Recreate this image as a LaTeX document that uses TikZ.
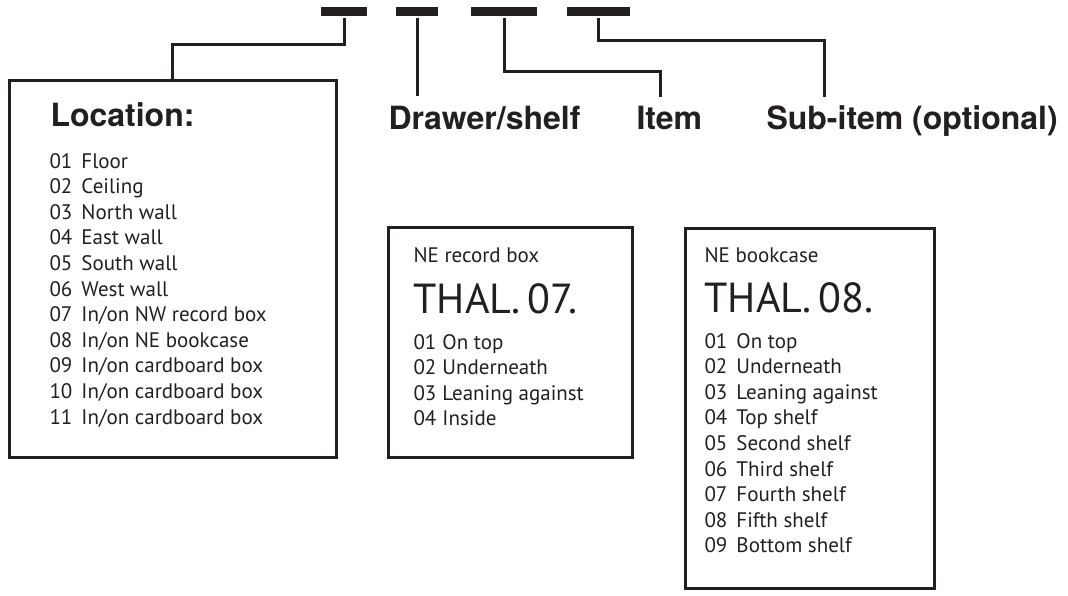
\documentclass[tikz,border=0pt]{standalone}
\usepackage{fontspec}
\setmainfont{PT Sans}
\newfontfamily\headfont{TeX Gyre Heros}
\usetikzlibrary{positioning}
\definecolor{ink}{HTML}{231F20}

\begin{document}
\begin{tikzpicture}[x=1pt, y=-1pt, color=ink, line width=3pt,
    bar/.style={fill=ink, inner sep=0pt, minimum height=9pt},
    panel/.style={draw, line width=3pt, inner sep=0pt},
    heading/.style={font=\headfont\bfseries\fontsize{32}{38}\selectfont,
                    inner sep=0pt, anchor=base west},
    caption/.style={font=\fontsize{21}{25.6}\selectfont,
                    inner sep=0pt, anchor=base west},
    code/.style={font=\fontsize{42}{48}\selectfont,
                 inner sep=0pt, anchor=base west}]
  \useasboundingbox (0,0) rectangle (1068,595);

  % the four fields of the code
  \node (bar1) [bar, minimum width=46pt] at (344,11.5) {};
  \node (bar2) [bar, minimum width=42pt] at (417,11.5) {};
  \node (bar3) [bar, minimum width=66pt] at (504,11.5) {};
  \node (bar4) [bar, minimum width=63pt] at (598.5,11.5) {};

  % field names
  \node (drawer)  [heading] at (387,129) {Drawer/shelf};
  \node (item)    [heading] at (635,129) {Item};
  \node (subitem) [heading] at (765,129) {Sub-item (optional)};

  % location box
  \node (locbox) [panel, minimum width=327pt, minimum height=377pt]
        at (172.5,268.5) {};
  \node (loc) [heading] at (49,126) {Location:};
  \node (loclist) [caption] at (48,168)
        {\begin{tabular}[t]{@{}p{32pt}@{}l@{}}
          01 & Floor\\
          02 & Ceiling\\
          03 & North wall\\
          04 & East wall\\
          05 & South wall\\
          06 & West wall\\
          07 & In/on NW record box\\
          08 & In/on NE bookcase\\
          09 & In/on cardboard box\\
          10 & In/on cardboard box\\
          11 & In/on cardboard box
        \end{tabular}};

  % record box
  \node (recbox) [panel, minimum width=244pt, minimum height=230pt]
        at (510,342) {};
  \node (rectitle) [caption] at (412,262) {NE record box};
  \node (reccode)  [code] at (412,313) {THAL.\,07.};
  \node (reclist)  [caption] at (412,349)
        {\begin{tabular}[t]{@{}p{29pt}@{}l@{}}
          01 & On top\\
          02 & Underneath\\
          03 & Leaning against\\
          04 & Inside
        \end{tabular}};

  % bookcase
  \node (bookbox) [panel, minimum width=249pt, minimum height=360pt]
        at (809.5,408) {};
  \node (booktitle) [caption] at (703,262) {NE bookcase};
  \node (bookcode)  [code] at (703,312) {THAL.\,08.};
  \node (booklist)  [caption] at (703,348)
        {\begin{tabular}[t]{@{}p{32pt}@{}l@{}}
          01 & On top\\
          02 & Underneath\\
          03 & Leaning against\\
          04 & Top shelf\\
          05 & Second shelf\\
          06 & Third shelf\\
          07 & Fourth shelf\\
          08 & Fifth shelf\\
          09 & Bottom shelf
        \end{tabular}};

  \draw (bar1.south) -- ++(0,27) -| (locbox.north);
  \draw[shorten >=8pt] (bar2.south) -- (bar2.south |- drawer.north);
  \draw[shorten >=7pt] (bar3.south) -- ++(0,54) -| ([xshift=25pt]item.north west);
  \draw[shorten >=7pt] (bar4.south) -- ++(0,23) -| ([xshift=59pt]subitem.north west);
\end{tikzpicture}
\end{document}
